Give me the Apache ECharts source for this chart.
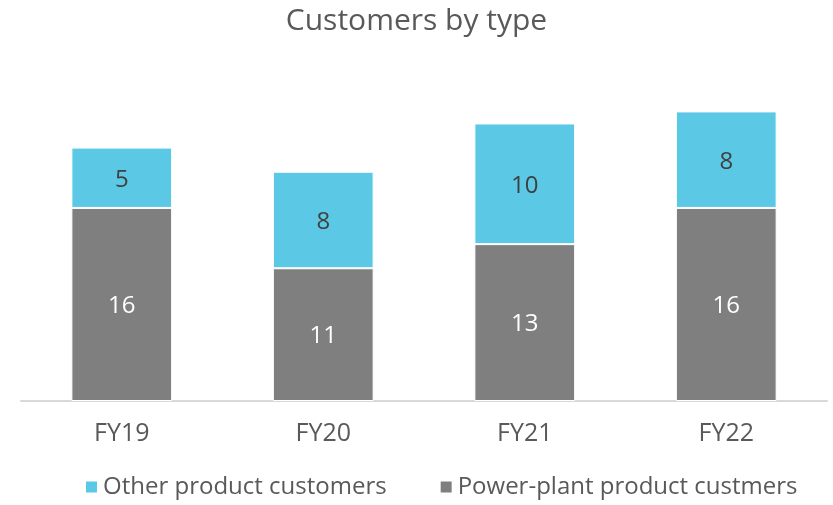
<!DOCTYPE html>
<html><head><meta charset="utf-8">
<script src="https://cdn.jsdelivr.net/npm/echarts@6/dist/echarts.min.js"></script>
<style>html,body{margin:0;padding:0;background:#fff}#c{width:833px;height:505px}</style>
</head><body><div id="c"></div>
<script>
var categories = ['FY19', 'FY20', 'FY21', 'FY22'];
var powerPlant = [16, 11, 13, 16];
var otherProduct = [5, 8, 10, 8];
var seriesNames = ['Other product customers', 'Power-plant product custmers'];

var FONT = 'Open Sans';
var chart = echarts.init(document.getElementById('c'));
chart.setOption({
  animation: false,
  title: {text: 'Customers by type', left: 'center', top: 1,
    textStyle: {fontFamily: FONT, fontSize: 30, fontWeight: 'normal', color: '#595959'}},
  legend: {
    bottom: 6, left: 84, padding: 0, itemWidth: 13, itemHeight: 13, itemGap: 52,
    icon: 'rect',
    data: seriesNames,
    textStyle: {fontFamily: FONT, fontSize: 24, color: '#595959'}
  },
  grid: {left: 21, right: 6, top: 39, bottom: 104},
  xAxis: {
    type: 'category', data: categories,
    axisLine: {lineStyle: {color: '#d9d9d9', width: 2}},
    axisTick: {show: false},
    axisLabel: {fontFamily: FONT, fontSize: 25, color: '#595959', margin: 20}
  },
  yAxis: {type: 'value', min: 0, max: 30, show: false, splitLine: {show: false}},
  series: [
    {name: seriesNames[1], type: 'bar', stack: 's', data: powerPlant, barWidth: '50%',
      itemStyle: {color: '#7f7f7f', borderColor: '#ffffff', borderWidth: 1},
      label: {show: true, position: 'inside', offset: [0, 2], fontFamily: FONT, fontSize: 24, color: '#ffffff'}},
    {name: seriesNames[0], type: 'bar', stack: 's', data: otherProduct, barWidth: '50%',
      itemStyle: {color: '#5bc9e5', borderColor: '#ffffff', borderWidth: 1},
      label: {show: true, position: 'inside', offset: [0, 2], fontFamily: FONT, fontSize: 24, color: '#404040'}}
  ]
});
</script></body></html>
